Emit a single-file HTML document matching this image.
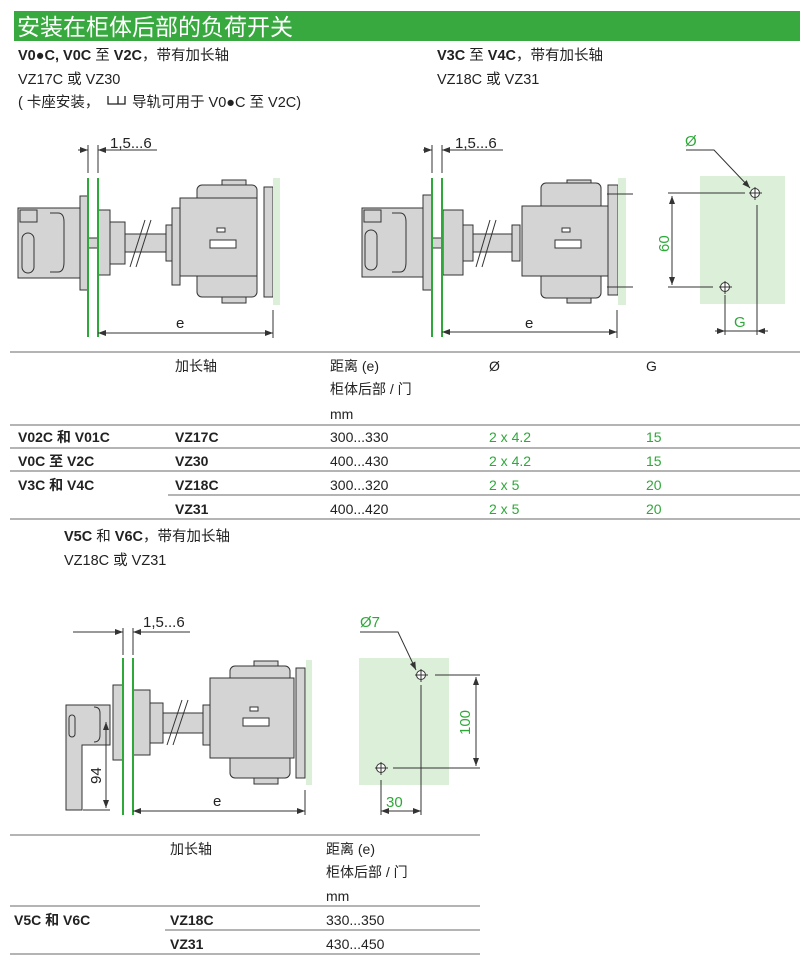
<!DOCTYPE html>
<html><head><meta charset="utf-8"><style>
body{margin:0;background:#fff;width:800px;height:962px;overflow:hidden}
svg{display:block}
text{font-family:"Liberation Sans","Noto Sans CJK SC",sans-serif;fill:#222}
.b{font-weight:bold}
.g{fill:#2fa83a}
</style></head><body>
<svg width="800" height="962" viewBox="0 0 800 962" xmlns="http://www.w3.org/2000/svg">
<defs>
<marker id="a" markerWidth="8" markerHeight="6" refX="8" refY="3" orient="auto-start-reverse" markerUnits="userSpaceOnUse"><path d="M0,0L8,3L0,6z" fill="#333"/></marker>
</defs>
<rect x="14" y="11" width="786" height="30" fill="#37a93f"/>
<text x="17" y="35" font-size="23" style="fill:#fff">安装在柜体后部的负荷开关</text>
<g font-size="14.5">
<text x="18" y="60"><tspan class="b">V0●C, V0C</tspan> 至 <tspan class="b">V2C</tspan>，带有加长轴</text>
<text x="18" y="84">VZ17C 或 VZ30</text>
<text x="18" y="107">( 卡座安装，</text>
<path d="M108,96V104H118V96M118,104H125V96" fill="none" stroke="#222" stroke-width="1.3"/>
<text x="132" y="107">导轨可用于 V0●C 至 V2C)</text>
<text x="437" y="60"><tspan class="b">V3C</tspan> 至 <tspan class="b">V4C</tspan>，带有加长轴</text>
<text x="437" y="84">VZ18C 或 VZ31</text>
</g>
<g stroke="#333" stroke-width="1" fill="#d4d4d4">
<!-- drawing 1 -->
<line x1="78" y1="150" x2="88" y2="150" marker-end="url(#a)"/><line x1="157" y1="150" x2="98" y2="150" marker-end="url(#a)"/>
<line x1="88" y1="145" x2="88" y2="173"/><line x1="98" y1="145" x2="98" y2="173"/>
<rect x="18" y="208" width="62" height="70"/><rect x="80" y="196" width="8" height="94"/>
<rect x="22" y="233" width="12" height="40" rx="6" fill="none"/><path d="M50,213H58Q64,213 64,222V262Q64,272 58,272H50" fill="none"/>
<rect x="20" y="210" width="17" height="12" fill="none"/>
<rect x="88" y="238" width="10" height="10"/>
<rect x="98" y="210" width="12" height="65"/><rect x="110" y="222" width="15" height="42"/>
<rect x="125" y="234" width="43" height="18"/>
<line x1="130" y1="267" x2="145" y2="220"/><line x1="136" y1="267" x2="151" y2="220"/>
<rect x="166" y="225" width="6" height="36"/><rect x="172" y="208" width="8" height="77"/>
<rect x="222" y="180" width="24" height="6"/><rect x="222" y="296" width="24" height="7"/>
<rect x="197" y="185" width="60" height="112" rx="5"/>
<rect x="180" y="198" width="77" height="78"/>
<rect x="264" y="187" width="9" height="110"/>
<rect x="210" y="240" width="26" height="8" fill="#fff"/><rect x="217" y="228" width="8" height="4" fill="#fff"/>
<!-- drawing 2 -->
<line x1="423" y1="150" x2="432" y2="150" marker-end="url(#a)"/><line x1="503" y1="150" x2="442" y2="150" marker-end="url(#a)"/>
<line x1="432" y1="145" x2="432" y2="173"/><line x1="442" y1="145" x2="442" y2="173"/>
<rect x="362" y="208" width="61" height="69"/><rect x="423" y="195" width="9" height="95"/>
<rect x="365" y="230" width="12" height="40" rx="6" fill="none"/><path d="M392,213H400Q406,213 406,222V262Q406,272 400,272H392" fill="none"/>
<rect x="364" y="210" width="17" height="12" fill="none"/>
<rect x="432" y="238" width="10" height="10"/>
<rect x="443" y="210" width="20" height="65"/><rect x="463" y="225" width="10" height="36"/>
<rect x="473" y="234" width="45" height="18"/>
<line x1="476" y1="267" x2="490" y2="220"/><line x1="482" y1="267" x2="496" y2="220"/>
<rect x="512" y="225" width="8" height="36"/>
<rect x="567" y="180" width="24" height="6"/><rect x="567" y="296" width="24" height="7"/>
<rect x="541" y="183" width="60" height="115" rx="5"/>
<rect x="522" y="206" width="90" height="70"/>
<rect x="608" y="185" width="10" height="110"/>
<rect x="555" y="240" width="26" height="8" fill="#fff"/><rect x="562" y="228" width="8" height="4" fill="#fff"/>
<!-- drawing 3 -->
<line x1="73" y1="632" x2="123" y2="632" marker-end="url(#a)"/><line x1="190" y1="632" x2="133" y2="632" marker-end="url(#a)"/>
<line x1="123" y1="628" x2="123" y2="655"/><line x1="133" y1="628" x2="133" y2="655"/>
<path d="M66,705H110V745H82V810H66Z"/>
<rect x="69" y="715" width="6" height="22" rx="3" fill="none"/><path d="M94,707Q100,707 100,713V735Q100,742 94,742" fill="none"/>
<rect x="113" y="685" width="10" height="75"/>
<rect x="133" y="690" width="17" height="65"/><rect x="150" y="703" width="13" height="40"/>
<rect x="163" y="713" width="45" height="20"/>
<line x1="167" y1="745" x2="182" y2="700"/><line x1="173" y1="745" x2="188" y2="700"/>
<rect x="203" y="705" width="8" height="40"/>
<rect x="254" y="661" width="24" height="6"/><rect x="254" y="777" width="24" height="7"/>
<rect x="230" y="666" width="60" height="112" rx="5"/>
<rect x="210" y="678" width="84" height="80"/>
<rect x="296" y="668" width="9" height="110"/>
<rect x="243" y="718" width="26" height="8" fill="#fff"/><rect x="250" y="707" width="8" height="4" fill="#fff"/>
</g>
<g stroke="#2fa83a" stroke-width="2">
<line x1="88" y1="178" x2="88" y2="337"/><line x1="98" y1="178" x2="98" y2="337"/>
<line x1="432" y1="178" x2="432" y2="337"/><line x1="442" y1="178" x2="442" y2="337"/>
<line x1="123" y1="658" x2="123" y2="815"/><line x1="133" y1="658" x2="133" y2="815"/>
</g>
<rect x="273" y="178" width="7" height="127" fill="#dcefd8"/>
<rect x="618" y="178" width="8" height="127" fill="#dcefd8"/>
<rect x="306" y="660" width="6" height="125" fill="#dcefd8"/>
<rect x="700" y="176" width="85" height="128" fill="#dcefd8"/>
<rect x="359" y="658" width="90" height="127" fill="#dcefd8"/>
<g stroke="#333" stroke-width="1" fill="none">
<line x1="98" y1="333" x2="273" y2="333" marker-start="url(#a)" marker-end="url(#a)"/><line x1="273" y1="310" x2="273" y2="338"/>
<line x1="442" y1="332" x2="617" y2="332" marker-start="url(#a)" marker-end="url(#a)"/><line x1="617" y1="310" x2="617" y2="338"/>
<line x1="607" y1="194" x2="633" y2="194"/><line x1="607" y1="287" x2="633" y2="287"/>
<line x1="133" y1="811" x2="305" y2="811" marker-start="url(#a)" marker-end="url(#a)"/><line x1="305" y1="790" x2="305" y2="815"/>
<line x1="106" y1="722" x2="106" y2="808" marker-start="url(#a)" marker-end="url(#a)"/><line x1="83" y1="810" x2="110" y2="810"/>
<circle cx="755" cy="193" r="4.5" fill="#fff"/><line x1="749" y1="193" x2="762" y2="193"/><line x1="755" y1="187" x2="755" y2="200"/>
<circle cx="725" cy="287" r="4.5" fill="#fff"/><line x1="719" y1="287" x2="732" y2="287"/><line x1="725" y1="281" x2="725" y2="294"/>
<polyline points="686,150 714,150 750,188" marker-end="url(#a)"/>
<line x1="668" y1="193" x2="745" y2="193"/><line x1="668" y1="287" x2="713" y2="287"/>
<line x1="672" y1="196" x2="672" y2="285" marker-start="url(#a)" marker-end="url(#a)"/>
<line x1="725" y1="295" x2="725" y2="335"/><line x1="757" y1="205" x2="757" y2="335"/>
<line x1="715" y1="331" x2="725" y2="331" marker-end="url(#a)"/><line x1="768" y1="331" x2="757" y2="331" marker-end="url(#a)"/>
<line x1="725" y1="331" x2="757" y2="331"/>
<circle cx="421" cy="675" r="4.5" fill="#fff"/><line x1="415" y1="675" x2="428" y2="675"/><line x1="421" y1="669" x2="421" y2="682"/>
<circle cx="381" cy="768" r="4.5" fill="#fff"/><line x1="375" y1="768" x2="388" y2="768"/><line x1="381" y1="762" x2="381" y2="775"/>
<polyline points="360,632 398,632 416,670" marker-end="url(#a)"/>
<line x1="435" y1="675" x2="480" y2="675"/><line x1="393" y1="768" x2="480" y2="768"/>
<line x1="476" y1="677" x2="476" y2="766" marker-start="url(#a)" marker-end="url(#a)"/>
<line x1="381" y1="780" x2="381" y2="815"/><line x1="421" y1="685" x2="421" y2="815"/>
<line x1="381" y1="811" x2="421" y2="811" marker-start="url(#a)" marker-end="url(#a)"/>
</g>
<g font-size="15">
<text x="110" y="148">1,5...6</text><text x="455" y="148">1,5...6</text><text x="143" y="627">1,5...6</text>
<text x="176" y="328">e</text><text x="525" y="328">e</text><text x="213" y="806">e</text>
<text class="g" x="685" y="146">Ø</text>
<text class="g" x="734" y="327">G</text>
<text class="g" transform="translate(669,252) rotate(-90)">60</text>
<text transform="translate(101,784) rotate(-90)">94</text>
<text class="g" x="360" y="627">Ø7</text>
<text class="g" transform="translate(470,735) rotate(-90)">100</text>
<text class="g" x="386" y="807">30</text>
</g>
<g stroke="#888" stroke-width="1.2">
<line x1="10" y1="352" x2="800" y2="352"/><line x1="10" y1="425" x2="800" y2="425"/>
<line x1="10" y1="448" x2="800" y2="448"/><line x1="10" y1="471" x2="800" y2="471"/>
<line x1="168" y1="495" x2="800" y2="495"/><line x1="10" y1="519" x2="800" y2="519"/>
<line x1="10" y1="835" x2="480" y2="835"/><line x1="10" y1="906" x2="480" y2="906"/>
<line x1="165" y1="930" x2="480" y2="930"/><line x1="10" y1="954" x2="480" y2="954"/>
</g>
<g font-size="14">
<text x="175" y="371">加长轴</text><text x="330" y="371">距离 (e)</text><text x="330" y="394">柜体后部 / 门</text><text x="330" y="419">mm</text>
<text x="489" y="371">Ø</text><text x="646" y="371">G</text>
<text class="b" x="18" y="442">V02C 和 V01C</text><text class="b" x="175" y="442">VZ17C</text><text x="330" y="442">300...330</text><text class="g" x="489" y="442">2 x 4.2</text><text class="g" x="646" y="442">15</text>
<text class="b" x="18" y="466">V0C 至 V2C</text><text class="b" x="175" y="466">VZ30</text><text x="330" y="466">400...430</text><text class="g" x="489" y="466">2 x 4.2</text><text class="g" x="646" y="466">15</text>
<text class="b" x="18" y="490">V3C 和 V4C</text><text class="b" x="175" y="490">VZ18C</text><text x="330" y="490">300...320</text><text class="g" x="489" y="490">2 x 5</text><text class="g" x="646" y="490">20</text>
<text class="b" x="175" y="514">VZ31</text><text x="330" y="514">400...420</text><text class="g" x="489" y="514">2 x 5</text><text class="g" x="646" y="514">20</text>
<text x="64" y="541" font-size="14.5"><tspan class="b">V5C</tspan> 和 <tspan class="b">V6C</tspan>，带有加长轴</text>
<text x="64" y="565" font-size="14.5">VZ18C 或 VZ31</text>
<text x="170" y="854">加长轴</text><text x="326" y="854">距离 (e)</text><text x="326" y="877">柜体后部 / 门</text><text x="326" y="901">mm</text>
<text class="b" x="14" y="925">V5C 和 V6C</text><text class="b" x="170" y="925">VZ18C</text><text x="326" y="925">330...350</text>
<text class="b" x="170" y="949">VZ31</text><text x="326" y="949">430...450</text>
</g>
</svg>
</body></html>
